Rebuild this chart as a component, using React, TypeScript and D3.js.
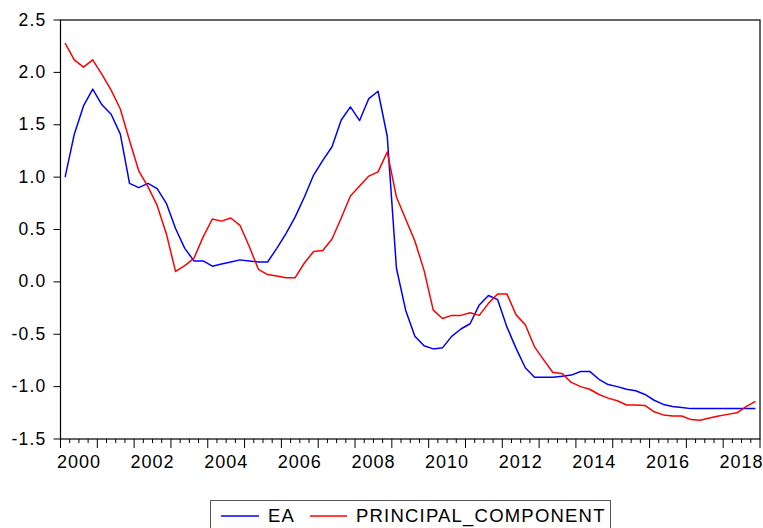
import React from "react";
import * as d3 from "d3";

// Quarterly observations, 2000Q1 – 2018Q4
const startYear = 2000;
const endYear = 2019;

const eaValues: number[] = [
  1.0, 1.41, 1.68, 1.84, 1.69, 1.6, 1.41, 0.94, 0.9, 0.94, 0.89, 0.75,
  0.51, 0.32, 0.2, 0.2, 0.15, 0.17, 0.19, 0.21, 0.2, 0.19, 0.19, 0.32,
  0.46, 0.62, 0.81, 1.02, 1.16, 1.29, 1.545, 1.67, 1.54, 1.75, 1.82, 1.39,
  0.13, -0.27, -0.52, -0.61, -0.64, -0.63, -0.52, -0.45, -0.4, -0.22, -0.13, -0.17,
  -0.43, -0.635, -0.82, -0.91, -0.91, -0.91, -0.9, -0.89, -0.855, -0.855, -0.93, -0.98,
  -1.0, -1.025, -1.04, -1.075, -1.13, -1.17, -1.19, -1.2, -1.21, -1.21, -1.21, -1.21,
  -1.21, -1.21, -1.21, -1.21,
];

const pcValues: number[] = [
  2.28, 2.12, 2.05, 2.12, 1.98, 1.83, 1.65, 1.35, 1.06, 0.91, 0.73, 0.46,
  0.1, 0.155, 0.225, 0.43, 0.6, 0.58, 0.61, 0.54, 0.34, 0.12, 0.07, 0.055,
  0.04, 0.04, 0.18, 0.29, 0.3, 0.41, 0.61, 0.82, 0.915, 1.01, 1.05, 1.24,
  0.81, 0.6, 0.39, 0.11, -0.27, -0.35, -0.32, -0.32, -0.295, -0.32, -0.205, -0.115,
  -0.115, -0.315, -0.41, -0.62, -0.745, -0.865, -0.875, -0.96, -1.0, -1.025, -1.075, -1.11,
  -1.135, -1.175, -1.175, -1.18, -1.24, -1.27, -1.28, -1.28, -1.315, -1.32, -1.3, -1.28,
  -1.265, -1.25, -1.19, -1.14,
];

const yTicks: number[] = [-1.5, -1.0, -0.5, 0.0, 0.5, 1.0, 1.5, 2.0, 2.5];
const xLabelYears: number[] = [2000, 2002, 2004, 2006, 2008, 2010, 2012, 2014, 2016, 2018];

const seriesNames = ["EA", "PRINCIPAL_COMPONENT"];
const seriesColors = ["#0000ff", "#ff0000"];

const W = 763;
const H = 528;
const left = 60.5;
const right = 760;
const top = 20;
const bottom = 439;

export default function App() {
  const x = d3.scaleLinear().domain([startYear, endYear]).range([left, right]);
  const y = d3.scaleLinear().domain([-1.5, 2.5]).range([bottom, top]);

  const quarterX = (i: number) => x(startYear + (i + 0.5) / 4);
  const line = d3
    .line<number>()
    .x((_, i) => quarterX(i))
    .y((v) => y(v));

  const quarterTicks = d3.range(startYear * 4, endYear * 4 + 1).map((q) => q / 4);
  const font = "'Liberation Sans', Arial, sans-serif";

  return (
    <svg
      width={W}
      height={H}
      style={{ position: "fixed", left: 0, top: 0, background: "#fff" }}
      fontFamily={font}
    >
      <rect x={0} y={0} width={W} height={H} fill="#fff" />

      {/* y axis ticks and labels */}
      {yTicks.map((t) => (
        <g key={t}>
          <line x1={left - 7} x2={left} y1={y(t)} y2={y(t)} stroke="#000" strokeWidth={1} />
          <text
            x={left - 14}
            y={y(t)}
            dy={5.5}
            textAnchor="end"
            fontSize={17.5}
            letterSpacing={1.2}
            fill="#000"
          >
            {t.toFixed(1)}
          </text>
        </g>
      ))}

      {/* x axis quarterly ticks */}
      {quarterTicks.map((q) => {
        const major = Number.isInteger(q);
        return (
          <line
            key={q}
            x1={x(q)}
            x2={x(q)}
            y1={bottom}
            y2={bottom + (major ? 9 : 4)}
            stroke="#000"
            strokeWidth={1}
          />
        );
      })}
      {xLabelYears.map((yr) => (
        <text
          key={yr}
          x={x(yr + 0.5)}
          y={468}
          textAnchor="middle"
          fontSize={18}
          letterSpacing={1}
          fill="#000"
        >
          {yr}
        </text>
      ))}

      {/* series */}
      {[eaValues, pcValues].map((vals, k) => (
        <path
          key={k}
          d={line(vals) || ""}
          fill="none"
          stroke={seriesColors[k]}
          strokeWidth={1.5}
          strokeLinejoin="round"
        />
      ))}

      {/* frame */}
      <rect
        x={left}
        y={top}
        width={right - left}
        height={bottom - top}
        fill="none"
        stroke="#000"
        strokeWidth={1.2}
      />

      {/* legend */}
      <rect x={210.5} y={500.5} width={400} height={40} fill="#fff" stroke="#555" strokeWidth={1} />
      <line x1={221} x2={259} y1={516} y2={516} stroke={seriesColors[0]} strokeWidth={1.5} />
      <text x={268} y={522} fontSize={18.5} letterSpacing={1.2} fill="#000">
        {seriesNames[0]}
      </text>
      <line x1={310} x2={347} y1={516} y2={516} stroke={seriesColors[1]} strokeWidth={1.5} />
      <text x={356} y={522} fontSize={18.5} letterSpacing={1.2} fill="#000">
        {seriesNames[1]}
      </text>
    </svg>
  );
}
